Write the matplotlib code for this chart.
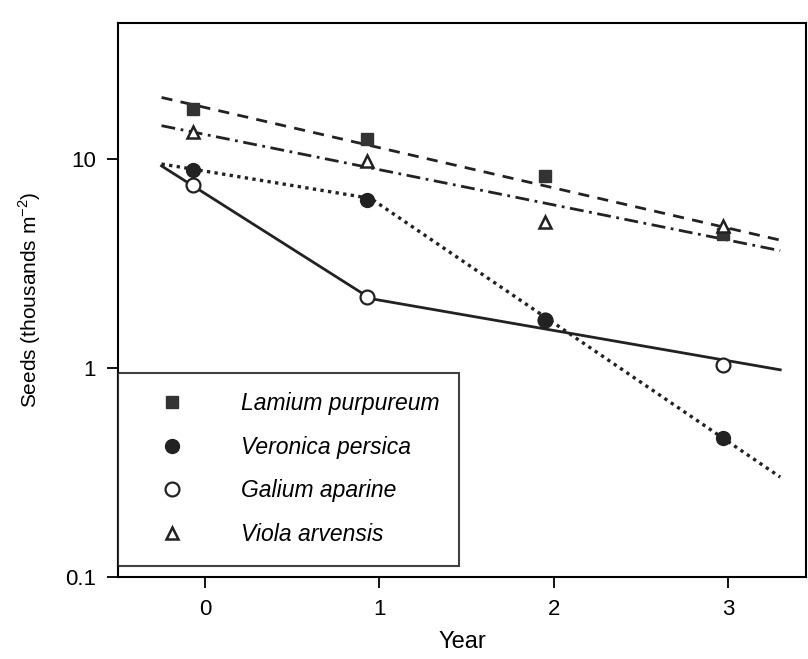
import matplotlib.pyplot as plt

plt.rcParams['font.family'] = ['Liberation Sans', 'DejaVu Sans']

years = [0, 1, 2, 3]
lamium = [17.5, 12.5, 8.3, 4.4]
veronica = [8.9, 6.4, 1.7, 0.46]
galium = [7.5, 2.2, 1.7, 1.03]
viola = [13.5, 9.8, 5.0, 4.8]
offsets = [-0.07, -0.07, -0.05, -0.03]

# fitted lines
lamium_fit_x = [-0.25, 3.3]
lamium_fit_y = [19.8, 4.1]
viola_fit_x = [-0.25, 3.3]
viola_fit_y = [14.5, 3.65]
veronica_fit_x = [-0.25, 0.95, 3.3]
veronica_fit_y = [9.5, 6.5, 0.3]
galium_fit_x = [-0.25, 0.95, 3.3]
galium_fit_y = [9.3, 2.15, 0.98]

fig = plt.figure(figsize=(8.08, 6.59), dpi=100)
ax = fig.add_axes([0.146, 0.125, 0.852, 0.84])

xs = [y + o for y, o in zip(years, offsets)]

ax.plot(lamium_fit_x, lamium_fit_y, color='#222', ls=(0, (4, 3)), lw=2)
ax.plot(viola_fit_x, viola_fit_y, color='#222', ls=(0, (5, 2, 1, 2)), lw=2)
ax.plot(veronica_fit_x, veronica_fit_y, color='#222', ls=(0, (1, 1.3)), lw=2.4)
ax.plot(galium_fit_x, galium_fit_y, color='#222', ls='-', lw=2)

h_gal, = ax.plot(xs, galium, 'o', mfc='white', mec='#222', mew=1.6, ms=10, label='Galium aparine')
h_lam, = ax.plot(xs, lamium, 's', color='#333', ms=8, label='Lamium purpureum')
h_ver, = ax.plot(xs, veronica, 'o', color='#222', ms=10, label='Veronica persica')
h_vio, = ax.plot(xs, viola, '^', mfc='white', mec='#222', mew=1.8, ms=9, label='Viola arvensis')

ax.set_yscale('log')
ax.set_ylim(0.1, 45)
ax.set_xlim(-0.5, 3.45)
ax.set_xticks(years)
ax.set_yticks([0.1, 1, 10])
ax.set_yticklabels(['0.1', '1', '10'])
ax.minorticks_off()
ax.tick_params(direction='out', length=8, width=1.3, labelsize=16, pad=8)
for s in ax.spines.values():
    s.set_linewidth(1.5)

ax.set_xlabel('Year', fontsize=17, labelpad=8)
ax.set_ylabel('Seeds (thousands m$^{\\mathregular{-2}}$)', fontsize=15, labelpad=16)

leg = ax.legend(handles=[h_lam, h_ver, h_gal, h_vio],
                loc='lower left', bbox_to_anchor=(0.0, 0.02), borderaxespad=0,
                frameon=True, fancybox=False, edgecolor='#111',
                prop={'size': 16.5, 'style': 'italic'},
                handletextpad=1.5, labelspacing=0.9, borderpad=0.85, handlelength=3.0)
leg.get_frame().set_linewidth(1.5)

fig.savefig('out.png', dpi=100)
